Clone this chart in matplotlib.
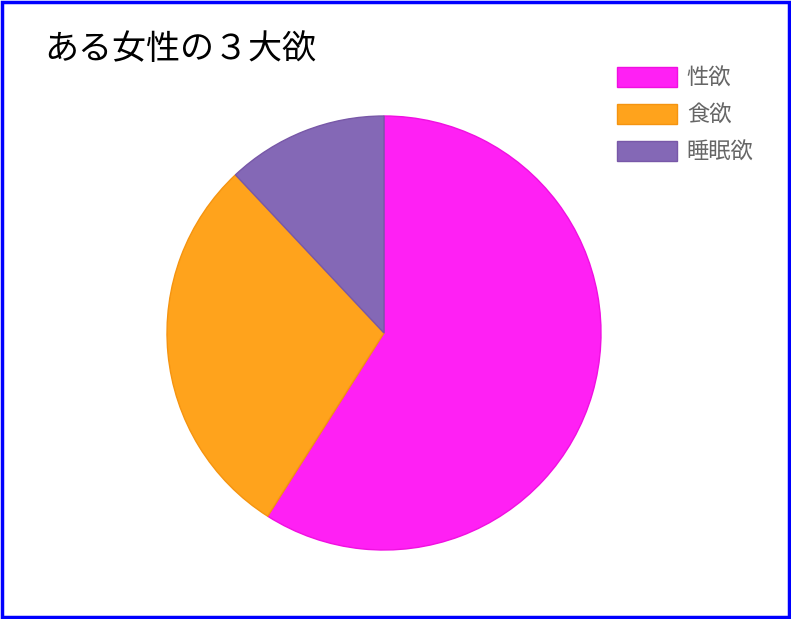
import matplotlib.pyplot as plt
from matplotlib.patches import Rectangle

plt.rcParams['font.family'] = ['Noto Sans CJK JP', 'DejaVu Sans']

title = 'ある女性の３大欲'
labels = ['性欲', '食欲', '睡眠欲']
values = [59, 29, 12]
colors = ['#ff20f4', '#ffa31c', '#8468b6']
edges = ['#f010e0', '#f59410', '#7858a8']

fig = plt.figure(figsize=(7.91, 6.19), dpi=100)
ax = fig.add_axes([167 / 791, 69 / 619, 434 / 791, 434 / 619])

wedges, _ = ax.pie(values, colors=colors, startangle=90, counterclock=False,
                   radius=1, wedgeprops={'linewidth': 1})
for w, ec in zip(wedges, edges):
    w.set_edgecolor(ec)
ax.set_xlim(-1, 1)
ax.set_ylim(-1, 1)
ax.set_aspect('equal')

fig.text(44 / 791, 1 - 50 / 619, title, fontsize=24.5, va='center', ha='left')

leg = fig.legend(wedges, labels, loc='upper left',
                 bbox_to_anchor=(599 / 791, 1 - 49 / 619),
                 frameon=False, fontsize=16, handlelength=2.7, handleheight=1.0,
                 labelspacing=0.63, handletextpad=0.45, borderpad=0.3)
for t in leg.get_texts():
    t.set_color('#666666')

fig.patches.append(Rectangle((0.002, 0.003), 0.996, 0.994, transform=fig.transFigure,
                             fill=False, edgecolor='#0000ff', linewidth=2.5))

fig.savefig('out.png', dpi=100)
